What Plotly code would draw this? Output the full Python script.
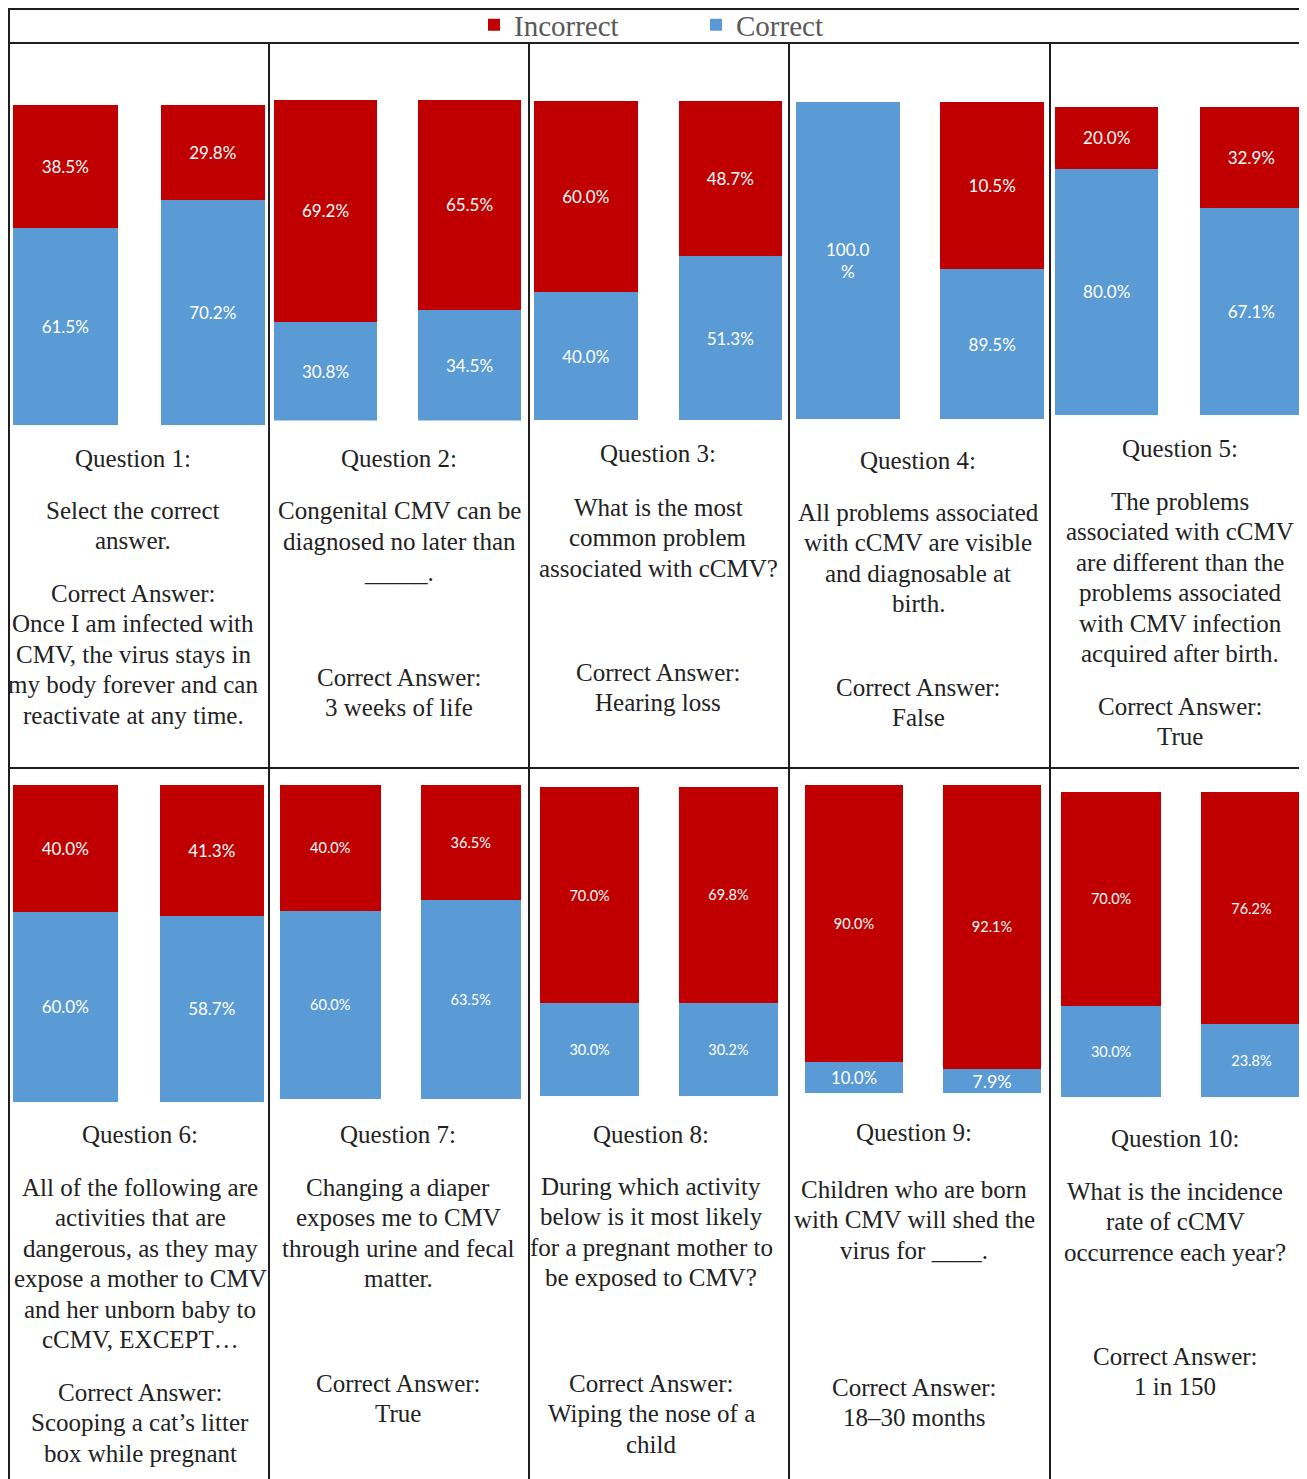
import plotly.graph_objects as go

# ---------------- data ----------------
groups = ["Group A", "Group B"]
# segment heights as drawn (percent of each bar)
incorrect = [
    [38.5, 29.8], [69.2, 65.5], [60.0, 48.7], [0.0, 52.7], [20.0, 32.9],
    [40.0, 41.3], [40.0, 36.5], [70.0, 69.8], [90.0, 92.1], [70.0, 76.2],
]
correct = [
    [61.5, 70.2], [30.8, 34.5], [40.0, 51.3], [100.0, 47.3], [80.0, 67.1],
    [60.0, 58.7], [60.0, 63.5], [30.0, 30.2], [10.0, 7.9], [30.0, 23.8],
]
# data labels as printed on the bars
incorrect_labels = [
    ["38.5%", "29.8%"], ["69.2%", "65.5%"], ["60.0%", "48.7%"], ["", "10.5%"], ["20.0%", "32.9%"],
    ["40.0%", "41.3%"], ["40.0%", "36.5%"], ["70.0%", "69.8%"], ["90.0%", "92.1%"], ["70.0%", "76.2%"],
]
correct_labels = [
    ["61.5%", "70.2%"], ["30.8%", "34.5%"], ["40.0%", "51.3%"], ["100.0<br>%", "89.5%"], ["80.0%", "67.1%"],
    ["60.0%", "58.7%"], ["60.0%", "63.5%"], ["30.0%", "30.2%"], ["10.0%", "7.9%"], ["30.0%", "23.8%"],
]
titles = [f"Question {i}:" for i in range(1, 11)]
questions = [
    ["Select the correct", "answer."],
    ["Congenital CMV can be", "diagnosed no later than", "_____."],
    ["What is the most", "common problem", "associated with cCMV?"],
    ["All problems associated", "with cCMV are visible", "and diagnosable at", "birth."],
    ["The problems", "associated with cCMV", "are different than the",
     "problems associated", "with CMV infection", "acquired after birth."],
    ["All of the following are", "activities that are", "dangerous, as they may",
     "expose a mother to CMV", "and her unborn baby to", "cCMV, EXCEPT…"],
    ["Changing a diaper", "exposes me to CMV", "through urine and fecal", "matter."],
    ["During which activity", "below is it most likely", "for a pregnant mother to",
     "be exposed to CMV?"],
    ["Children who are born", "with CMV will shed the", "virus for ____."],
    ["What is the incidence", "rate of cCMV", "occurrence each year?"],
]
answers = [
    ["Once I am infected with", "CMV, the virus stays in", "my body forever and can",
     "reactivate at any time."],
    ["3 weeks of life"],
    ["Hearing loss"],
    ["False"],
    ["True"],
    ["Scooping a cat’s litter", "box while pregnant"],
    ["True"],
    ["Wiping the nose of a", "child"],
    ["18–30 months"],
    ["1 in 150"],
]

# ---------------- layout / style constants ----------------
PAGE_W, PAGE_H = 1307, 1479
OFF = 8  # default page margin of the html body
W, H = PAGE_W - OFF, PAGE_H - OFF
RED, BLUE = "#C00000", "#5B9BD5"
LINE = "#1f1f1f"
SERIF = "Liberation Serif, Times New Roman, serif"
SANS = "Lato, Carlito, Calibri, sans-serif"


def px(x):
    return (x - OFF) / W


def py(y):
    return 1 - (y - OFF) / H


# bar area per panel: (left of bar A, right of bar B, top, bottom, bar pixel width)
panel_boxes = [
    (13, 265, 105, 425, 104.5),
    (274, 521, 100, 420.5, 103),
    (534, 782, 101, 420, 103.5),
    (796, 1044, 102, 419.3, 103.6),
    (1055, 1303, 107, 415.3, 103.3),
    (13, 264, 785, 1102, 104.5),
    (280, 521, 785, 1099, 100.5),
    (540, 778, 787, 1096, 99.2),
    (805, 1041, 785, 1093, 98),
    (1061, 1301.5, 792, 1097, 100.2),
]
red_label_sizes = [[17, 17]] * 6 + [[14.5, 14.5]] * 4
blue_label_sizes = [[17, 17]] * 6 + [[14.5, 14.5], [14.5, 14.5], [16.5, 18], [14.5, 14.5]]

text_cx = [133, 399, 658, 918, 1180, 140, 398, 651, 914, 1175]
title_y = [458, 459, 454, 460, 449, 1134, 1134, 1134, 1132, 1138]
q_y = [510, 511, 507, 512, 501, 1187, 1187, 1186, 1189, 1191]
a_y = [593, 677, 672, 687, 706, 1392, 1383, 1383, 1387, 1356]
LS = 30.5

fig = go.Figure()
layout_axes = {}
for i in range(10):
    k = "" if i == 0 else str(i + 1)
    xa, ya = "x" + k, "y" + k
    left, right, top, bottom, bw = panel_boxes[i]
    wd = bw / ((right - left) - bw)
    # Correct first (bottom of stack)
    fig.add_trace(go.Bar(
        x=groups, y=correct[i], name="Correct", marker=dict(color=BLUE, line=dict(width=0)),
        width=[wd, wd], text=correct_labels[i], textposition="inside",
        insidetextanchor="middle", textangle=0, constraintext="none",
        textfont=dict(family=SANS, size=blue_label_sizes[i], color="white"),
        xaxis=xa, yaxis=ya, showlegend=(i == 0), legendgroup="c", legendrank=2,
        hoverinfo="skip",
    ))
    fig.add_trace(go.Bar(
        x=groups, y=incorrect[i], name="Incorrect", marker=dict(color=RED, line=dict(width=0)),
        width=[wd, wd], text=incorrect_labels[i], textposition="inside",
        insidetextanchor="middle", textangle=0, constraintext="none",
        textfont=dict(family=SANS, size=red_label_sizes[i], color="white"),
        xaxis=xa, yaxis=ya, showlegend=(i == 0), legendgroup="i", legendrank=1,
        hoverinfo="skip",
    ))
    layout_axes["xaxis" + k] = dict(domain=[px(left), px(right)], range=[-wd / 2, 1 + wd / 2],
                                    visible=False, anchor=ya, type="category")
    layout_axes["yaxis" + k] = dict(domain=[py(bottom), py(top)], range=[0, 100],
                                    visible=False, anchor=xa)

annotations = []
for i in range(10):
    cx = px(text_cx[i])
    lines = [(title_y[i], titles[i])]
    lines += [(q_y[i] + j * LS, t) for j, t in enumerate(questions[i])]
    lines += [(a_y[i], "Correct Answer:")]
    lines += [(a_y[i] + (j + 1) * LS, t) for j, t in enumerate(answers[i])]
    for yy, t in lines:
        annotations.append(dict(
            x=cx, y=py(yy), xref="paper", yref="paper", text=t, showarrow=False,
            xanchor="center", yanchor="middle",
            font=dict(family=SERIF, size=25, color="#222222"),
        ))

shapes = []


def hline(y, x0, x1):
    shapes.append(dict(type="line", xref="paper", yref="paper", x0=px(x0), x1=px(x1),
                       y0=py(y), y1=py(y), line=dict(color=LINE, width=2)))


def vline(x, y0, y1):
    shapes.append(dict(type="line", xref="paper", yref="paper", x0=px(x), x1=px(x),
                       y0=py(y0), y1=py(y1), line=dict(color=LINE, width=2)))


hline(9, 9, PAGE_W)
hline(43, 9, PAGE_W)
hline(768, 9, PAGE_W)
vline(9, 8, PAGE_H)
for xv in [269, 529, 789, 1050]:
    vline(xv, 43, PAGE_H)

fig.update_layout(
    width=W, height=H, margin=dict(l=0, r=0, t=0, b=0, autoexpand=False),
    paper_bgcolor="white", plot_bgcolor="rgba(0,0,0,0)",
    barmode="stack", showlegend=True,
    legend=dict(orientation="h", x=px(474), xanchor="left", y=py(25), yanchor="middle",
                font=dict(family=SERIF, size=29, color="#595959"),
                entrywidth=177, entrywidthmode="pixels",
                bgcolor="rgba(0,0,0,0)", borderwidth=0),
    annotations=annotations, shapes=shapes,
    **layout_axes,
)

fig.write_html("out.html")
